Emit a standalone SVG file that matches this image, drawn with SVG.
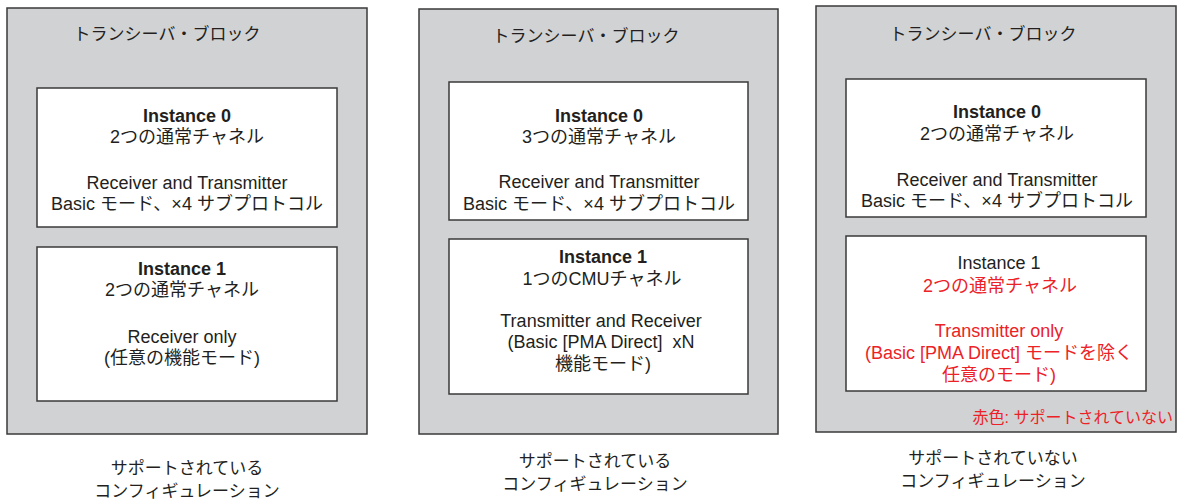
<svg xmlns="http://www.w3.org/2000/svg" width="1177" height="504" viewBox="0 0 1177 504">
<style>
.blk{fill:#d1d2d4;stroke:#3a3a3a;stroke-width:1.5}
.box{fill:#ffffff;stroke:#3a3a3a;stroke-width:1.5}
text{font-family:"Liberation Sans","Noto Sans CJK JP",sans-serif;font-size:18px;fill:#231f20;text-anchor:middle}
.b{font-weight:bold}
.t{font-size:17px}
.r{fill:#ec2227}
.cap{font-size:17px;font-family:"Noto Sans CJK JP",sans-serif}
</style>
<rect width="1177" height="504" fill="#ffffff"/>
<g id="block1">
<rect class="blk" x="7" y="8" width="360" height="426"/>
<text class="t" x="167" y="40">トランシーバ・ブロック</text>
</g>
<g id="b1-inst0">
<rect class="box" x="37" y="88" width="300" height="139"/>
<text class="b" x="187" y="122">Instance 0</text>
<text x="187" y="143">2つの通常チャネル</text>
<text x="187" y="189">Receiver and Transmitter</text>
<text x="187" y="210">Basic モード、×4 サブプロトコル</text>
</g>
<g id="b1-inst1">
<rect class="box" x="37" y="247" width="300" height="154"/>
<text class="b" x="182" y="275">Instance 1</text>
<text x="182" y="296">2つの通常チャネル</text>
<text x="182" y="343">Receiver only</text>
<text x="182" y="364">(任意の機能モード)</text>
</g>
<g id="caption1">
<text class="cap" x="187" y="474">サポートされている</text>
<text class="cap" x="187" y="497">コンフィギュレーション</text>
</g>

<g id="block2">
<rect class="blk" x="419" y="9" width="359" height="425"/>
<text class="t" x="586" y="42">トランシーバ・ブロック</text>
</g>
<g id="b2-inst0">
<rect class="box" x="449" y="82" width="299" height="138"/>
<text class="b" x="599" y="122">Instance 0</text>
<text x="599" y="143">3つの通常チャネル</text>
<text x="599" y="188">Receiver and Transmitter</text>
<text x="599" y="210">Basic モード、×4 サブプロトコル</text>
</g>
<g id="b2-inst1">
<rect class="box" x="449" y="239" width="299" height="155"/>
<text class="b" x="603" y="263">Instance 1</text>
<text x="602" y="285">1つのCMUチャネル</text>
<text x="601" y="327">Transmitter and Receiver</text>
<text x="601" y="348" xml:space="preserve">(Basic [PMA Direct]  xN</text>
<text x="603" y="370">機能モード)</text>
</g>
<g id="caption2">
<text class="cap" x="595" y="467">サポートされている</text>
<text class="cap" x="595" y="490">コンフィギュレーション</text>
</g>

<g id="block3">
<rect class="blk" x="816" y="6" width="360" height="426"/>
<text class="t" x="983" y="40">トランシーバ・ブロック</text>
<text class="r" x="1173" y="423" style="text-anchor:end;font-size:16px">赤色: サポートされていない</text>
</g>
<g id="b3-inst0">
<rect class="box" x="846" y="79" width="300" height="138"/>
<text class="b" x="997" y="118">Instance 0</text>
<text x="997" y="140">2つの通常チャネル</text>
<text x="997" y="186">Receiver and Transmitter</text>
<text x="997" y="207">Basic モード、×4 サブプロトコル</text>
</g>
<g id="b3-inst1">
<rect class="box" x="846" y="236" width="300" height="155"/>
<text x="999" y="269">Instance 1</text>
<text class="r" x="1000" y="292">2つの通常チャネル</text>
<text class="r" x="999" y="337">Transmitter only</text>
<text class="r" x="999" y="359">(Basic [PMA Direct] モードを除く</text>
<text class="r" x="999" y="381">任意のモード)</text>
</g>
<g id="caption3">
<text class="cap" x="993" y="464">サポートされていない</text>
<text class="cap" x="993" y="487">コンフィギュレーション</text>
</g>
<g id="connectors"></g>
</svg>
